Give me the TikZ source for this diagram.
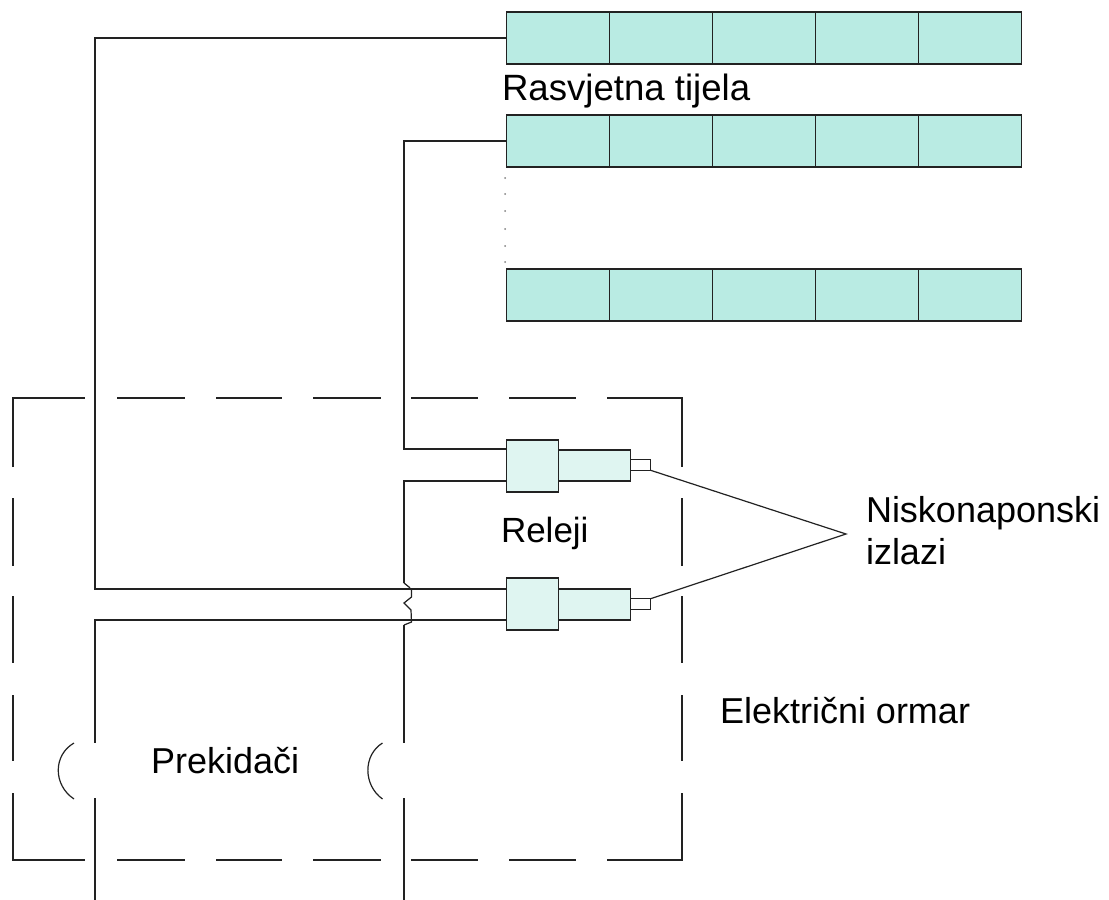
\documentclass[tikz,border=0pt]{standalone}
\usepackage{fontspec}
\setmainfont{Liberation Sans}
\definecolor{lampfill}{HTML}{B9EBE3}
\definecolor{relayfill}{HTML}{DFF5F1}
\definecolor{ink}{HTML}{222222}
\tikzset{
  wire/.style={draw=ink,line width=1.4pt,line join=miter},
  thinwire/.style={draw=ink,line width=1.2pt},
  lamp/.style={rectangle,draw=ink,fill=lampfill,line width=1.4pt,minimum width=103pt,minimum height=52pt,inner sep=0pt,outer sep=0pt},
  relaybig/.style={rectangle,draw=ink,fill=relayfill,line width=1.4pt,minimum width=52pt,minimum height=52pt,inner sep=0pt,outer sep=0pt},
  relaysmall/.style={rectangle,draw=ink,fill=relayfill,line width=1.4pt,minimum width=72pt,minimum height=31pt,inner sep=0pt,outer sep=0pt},
  relaypin/.style={rectangle,draw=ink,fill=white,line width=1.2pt,minimum width=20pt,minimum height=10.5pt,inner sep=0pt,outer sep=0pt},
  label/.style={font=\fontsize{36}{42.5}\selectfont,text=black,inner sep=0pt,outer sep=0pt,anchor=base west},
  cabinet/.style={draw=ink,line width=1.4pt,line join=miter},
  dotmark/.style={circle,fill=gray,inner sep=0pt,minimum size=2pt}
}
\begin{document}
\begin{tikzpicture}[x=1pt,y=-1pt]
\useasboundingbox (0,0) rectangle (1109,900);
\fill[white] (0,0) rectangle (1109,900);
% lamps
\foreach \r/\yy in {1/38,2/141,3/295}{
  \foreach \c/\xx in {1/558,2/661,3/764,4/867,5/970}{
    \node[lamp] (l\r\c) at (\xx,\yy) {};
  }
}
% dots
\foreach \i/\yy in {1/178,2/194,3/211,4/229,5/246,6/262}{
  \node[dotmark] (d\i) at (505,\yy) {};
}
% cabinet
\draw[cabinet] (13,467) -- (13,398) -- (85,398);
\foreach \a/\b in {117/184.5,216/282,313/381,411/478,509/576}{
  \draw[cabinet] (\a,398) -- (\b,398);
  \draw[cabinet] (\a,860) -- (\b,860);
}
\draw[cabinet] (607,398) -- (682,398) -- (682,467);
\draw[cabinet] (13,793) -- (13,860) -- (85,860);
\draw[cabinet] (607,860) -- (682,860) -- (682,793);
\foreach \a/\b in {498/566,596/663,695/761}{
  \draw[cabinet] (13,\a) -- (13,\b);
  \draw[cabinet] (682,\a) -- (682,\b);
}
% relays
\node[relaybig] (r1) at (532.5,466) {};
\node[relaysmall,anchor=west] (s1) at (r1.east |- 0,465.5) {};
\node[relaypin,anchor=west] (p1) at (s1.east |- 0,465) {};
\node[relaybig] (r2) at (532.5,604) {};
\node[relaysmall,anchor=west] (s2) at (r2.east |- 0,604.5) {};
\node[relaypin,anchor=west] (p2) at (s2.east |- 0,604) {};
% corner points of wires
\coordinate (a1) at (95,38);
\coordinate (b1) at (404,141);
\coordinate (ce) at (95,620);
\coordinate (cd) at (95,900);
\coordinate (e1) at (404,481);
\coordinate (fork) at (846,534);
% wires
\draw[wire] (l11.west) -- (a1) |- ([yshift=15pt]r2.west);
\draw[wire] (l21.west) -- (b1) |- ([yshift=17pt]r1.west);
\draw[wire] (r2.west |- ce) -- (ce) -- (95,743);
\draw[wire] (95,798) -- (cd);
\draw[wire] ([yshift=-15pt]r1.west) -- (e1) -- (404,583);
\draw[thinwire] (404,583) -- (409,587) -- (411.5,590) -- (411.5,597) -- (404,603) -- (411,610) -- (411.5,622) -- (404,625);
\draw[wire] (404,625) -- (404,743);
\draw[wire] (404,798) -- (404,900);
% switch arcs
\draw[thinwire] (74,743) .. controls (53,755) and (53,785) .. (74,799);
\draw[thinwire] (382.5,743) .. controls (363,755) and (363,785) .. (382.5,799);
% output leads
\draw[thinwire] (p1.south east) -- (fork) -- (p2.north east);
% labels
\node[label,font=\fontsize{36.6}{42.5}\selectfont] (t1) at (502,100) {Rasvjetna tijela};
\node[label,font=\fontsize{35}{42.5}\selectfont] (t2) at (501,542) {Releji};
\node[label] (t3) at (866,522) {Niskonaponski};
\node[label] (t4) at (866,564) {izlazi};
\node[label] (t5) at (720,723) {Električni ormar};
\node[label] (t6) at (151,773) {Prekidači};
\end{tikzpicture}
\end{document}
